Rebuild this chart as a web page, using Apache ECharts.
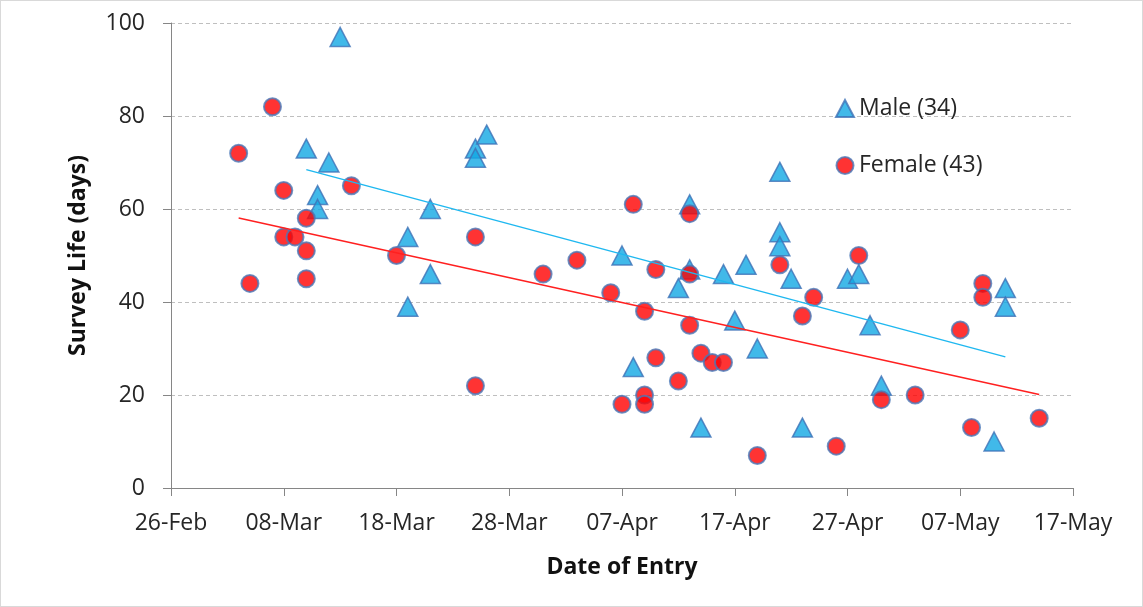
<!DOCTYPE html>
<html>
<head>
<meta charset="utf-8">
<title>Survey Life by Date of Entry</title>
<script src="https://cdn.jsdelivr.net/npm/echarts@6/dist/echarts.min.js"></script>
<style>
  html, body { margin: 0; padding: 0; background: #fff; }
  #wrap { width: 1143px; height: 607px; box-sizing: border-box; border: 1px solid #d9d9d9; }
  #chart { width: 1141px; height: 605px; }
</style>
</head>
<body>
<div id="wrap"><div id="chart"></div></div>
<script>
// axis start, tick step (days) and label months
const START_DATE = '2013-02-26'
const X_MAX_DAYS = 80
const X_STEP_DAYS = 10
const MONTHS = ['Jan', 'Feb', 'Mar', 'Apr', 'May', 'Jun', 'Jul', 'Aug', 'Sep', 'Oct', 'Nov', 'Dec']

// Male entries
const maleDates = [
  '2013-03-13', '2013-03-10', '2013-03-12', '2013-03-11', '2013-03-11',
  '2013-03-21', '2013-03-19', '2013-03-25', '2013-03-25', '2013-03-26',
  '2013-03-21', '2013-03-19', '2013-04-21', '2013-04-13', '2013-04-07',
  '2013-04-13', '2013-04-12', '2013-04-16', '2013-04-18', '2013-04-21',
  '2013-04-21', '2013-04-22', '2013-04-17', '2013-04-19', '2013-04-08',
  '2013-04-14', '2013-04-23', '2013-04-27', '2013-04-28', '2013-04-29',
  '2013-04-30', '2013-05-10', '2013-05-11', '2013-05-11'
]
const maleLife = [
  97, 73, 70, 63, 60,
  60, 54, 73, 71, 76,
  46, 39, 68, 61, 50,
  47, 43, 46, 48, 55,
  52, 45, 36, 30, 26,
  13, 13, 45, 46, 35,
  22, 10, 43, 39
]

// Female entries
const femaleDates = [
  '2013-03-04', '2013-03-05', '2013-03-07', '2013-03-08', '2013-03-08',
  '2013-03-09', '2013-03-10', '2013-03-10', '2013-03-10', '2013-03-14',
  '2013-03-18', '2013-03-25', '2013-03-25', '2013-03-31', '2013-04-03',
  '2013-04-06', '2013-04-08', '2013-04-09', '2013-04-10', '2013-04-13',
  '2013-04-13', '2013-04-13', '2013-04-10', '2013-04-09', '2013-04-09',
  '2013-04-07', '2013-04-12', '2013-04-14', '2013-04-15', '2013-04-16',
  '2013-04-19', '2013-04-21', '2013-04-23', '2013-04-24', '2013-04-26',
  '2013-04-28', '2013-04-30', '2013-05-03', '2013-05-07', '2013-05-08',
  '2013-05-09', '2013-05-09', '2013-05-14'
]
const femaleLife = [
  72, 44, 82, 64, 54,
  54, 58, 51, 45, 65,
  50, 54, 22, 46, 49,
  42, 61, 38, 47, 59,
  46, 35, 28, 20, 18,
  18, 23, 29, 27, 27,
  7, 48, 37, 41, 9,
  50, 19, 20, 34, 13,
  44, 41, 15
]

const DAY_MS = 86400000
const startMs = Date.parse(START_DATE)

/**
 * Date string -> days after axis start
 */
const toDays = (s) => Math.round((Date.parse(s) - startMs) / DAY_MS)

/**
 * Axis label, e.g. 08-Mar
 */
const dayLabel = (v) => {
  const d = new Date(startMs + v * DAY_MS)
  const dd = String(d.getUTCDate()).padStart(2, '0')
  return dd + '-' + MONTHS[d.getUTCMonth()]
}

const toPoints = (dates, vals) => dates.map((d, i) => [toDays(d), vals[i]])

/**
 * Least squares line over the data range (like an Excel linear trendline)
 */
const trendLine = (pts) => {
  const n = pts.length
  let sx = 0, sy = 0, sxx = 0, sxy = 0
  pts.forEach(([x, y]) => { sx += x; sy += y; sxx += x * x; sxy += x * y })
  const slope = (n * sxy - sx * sy) / (n * sxx - sx * sx)
  const icpt = (sy - slope * sx) / n
  const xs = pts.map((p) => p[0])
  const x0 = Math.min(...xs)
  const x1 = Math.max(...xs)
  return [[x0, icpt + slope * x0], [x1, icpt + slope * x1]]
}

const malePts = toPoints(maleDates, maleLife)
const femalePts = toPoints(femaleDates, femaleLife)

const FONT = 'Open Sans'
const FONT_SIZE = 23
const TEXT = '#262626'
const AXIS = '#868686'

const chart = echarts.init(document.getElementById('chart'))

chart.setOption({
  animation: false,
  textStyle: { fontFamily: FONT },
  grid: { left: 170, right: 69, top: 22, bottom: 118 },
  legend: {
    orient: 'vertical',
    left: 829,
    top: 91,
    itemGap: 34,
    itemWidth: 18,
    itemHeight: 17,
    data: ['Male (34)', 'Female (43)'],
    textStyle: { fontFamily: FONT, fontSize: FONT_SIZE, color: TEXT }
  },
  xAxis: {
    type: 'value',
    min: 0,
    max: X_MAX_DAYS,
    interval: X_STEP_DAYS,
    name: 'Date of Entry',
    nameLocation: 'middle',
    nameGap: 68,
    nameTextStyle: { fontFamily: FONT, fontSize: FONT_SIZE, fontWeight: 'bold', color: '#111' },
    axisLine: { show: true, lineStyle: { color: AXIS, width: 1 } },
    axisTick: { show: true, length: 8, lineStyle: { color: AXIS } },
    axisLabel: {
      margin: 24,
      fontSize: FONT_SIZE,
      color: TEXT,
      formatter: dayLabel
    },
    splitLine: { show: false }
  },
  yAxis: {
    type: 'value',
    min: 0,
    max: 100,
    interval: 20,
    name: 'Survey Life (days)',
    nameLocation: 'middle',
    nameGap: 81,
    nameTextStyle: { fontFamily: FONT, fontSize: FONT_SIZE, fontWeight: 'bold', color: '#111' },
    axisLine: { show: true, lineStyle: { color: AXIS, width: 1 } },
    axisTick: { show: true, inside: false, length: 8, lineStyle: { color: AXIS } },
    axisLabel: { margin: 26, fontSize: FONT_SIZE, color: TEXT },
    splitLine: { show: true, lineStyle: { color: '#bfbfbf', type: [4, 3], width: 1 } }
  },
  series: [
    {
      name: 'Male (34)',
      type: 'scatter',
      symbol: 'triangle',
      symbolSize: [20, 19],
      data: malePts,
      z: 2,
      itemStyle: { color: '#12a7e3', borderColor: '#3f72b6', borderWidth: 1.5 }
    },
    {
      name: 'Female (43)',
      type: 'scatter',
      symbol: 'circle',
      symbolSize: 17,
      data: femalePts,
      z: 3,
      itemStyle: { color: '#ff0000', borderColor: '#4a78b8', borderWidth: 2 }
    },
    {
      name: 'Male trend',
      type: 'line',
      data: trendLine(malePts),
      symbol: 'none',
      z: 4,
      silent: true,
      lineStyle: { color: '#1fb8f0', width: 1.5 }
    },
    {
      name: 'Female trend',
      type: 'line',
      data: trendLine(femalePts),
      symbol: 'none',
      z: 4,
      silent: true,
      lineStyle: { color: '#ff2020', width: 1.5 }
    }
  ]
})
</script>
</body>
</html>
